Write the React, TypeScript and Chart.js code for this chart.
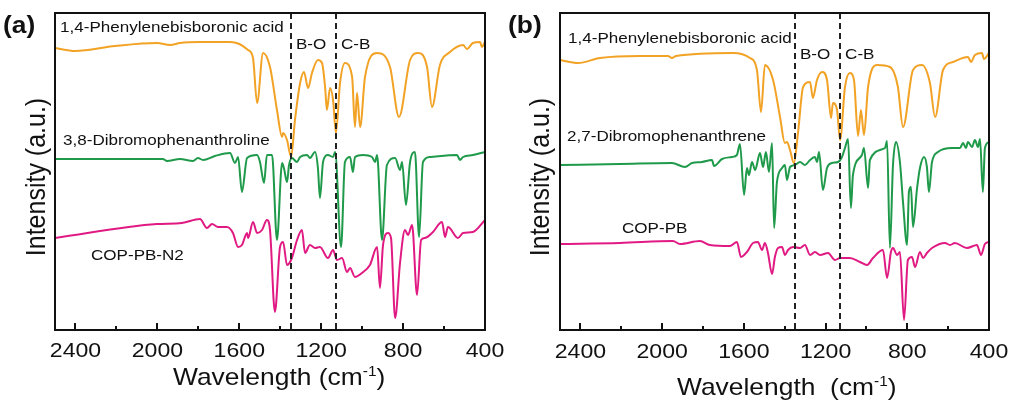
import React, { useEffect, useRef } from "react";
import { Chart, registerables } from "chart.js";

Chart.register(...registerables);

type Pt = [number, number];

// Wavenumber axis (reversed) and arbitrary intensity axis
const X_MIN = 400;
const X_MAX = 2500;
const Y_MIN = 0;
const Y_MAX = 317;
const MAJOR_TICKS = [2400, 2000, 1600, 1200, 800, 400];
const MINOR_TICKS = [2200, 1800, 1400, 1000, 600];
const MARKERS_A = [1348, 1128];
const MARKERS_B = [1350, 1129];
const MARKER_LABELS = ["B-O", "C-B"];

// Panel (a)
const A_ACID: Pt[] = [
  [2500, 282], [2402, 279], [2207, 284], [2002, 287], [1938, 285], [1890, 287], [1792, 288], [1645, 288],
  [1600, 286], [1557, 280], [1533, 272], [1513, 227], [1484, 277], [1450, 263], [1416, 220], [1391, 193],
  [1386, 197], [1367, 190], [1347, 173], [1328, 210], [1303, 247], [1284, 258], [1264, 242], [1245, 257],
  [1216, 270], [1196, 267], [1181, 243], [1172, 220], [1157, 242], [1142, 230], [1128, 197], [1108, 247],
  [1084, 267], [1049, 253], [1035, 203], [1025, 237], [1010, 203], [986, 253], [927, 277], [864, 263],
  [820, 213], [766, 270], [727, 277], [683, 263], [659, 223], [620, 265], [571, 278], [507, 285],
  [488, 281], [459, 287], [424, 288], [415, 283], [400, 288],
];
const A_PHEN: Pt[] = [
  [2500, 171], [2280, 171], [1973, 171], [1953, 169], [1890, 171], [1826, 169], [1802, 172], [1777, 170],
  [1719, 174], [1645, 177], [1621, 167], [1606, 173], [1587, 138], [1562, 172], [1513, 175], [1499, 168],
  [1479, 147], [1465, 175], [1440, 175], [1416, 90], [1391, 167], [1382, 162], [1367, 148], [1357, 165],
  [1343, 172], [1318, 168], [1303, 173], [1269, 175], [1255, 172], [1230, 178], [1216, 162], [1206, 132],
  [1191, 168], [1167, 175], [1142, 173], [1132, 178], [1103, 83], [1084, 168], [1059, 173], [1045, 158],
  [1035, 173], [996, 175], [952, 173], [937, 168], [927, 175], [903, 90], [879, 165], [839, 172],
  [815, 160], [805, 168], [786, 125], [766, 168], [742, 178], [722, 93], [703, 168], [668, 173],
  [537, 175], [522, 170], [507, 173], [459, 175], [400, 178],
];
const A_COP: Pt[] = [
  [2500, 92], [2002, 106], [1880, 107], [1792, 111], [1758, 102], [1733, 106], [1704, 103], [1660, 103],
  [1631, 97], [1606, 83], [1587, 85], [1562, 97], [1557, 92], [1533, 108], [1513, 97], [1489, 100],
  [1465, 110], [1450, 100], [1426, 18], [1401, 83], [1386, 88], [1367, 65], [1343, 72], [1318, 90],
  [1294, 100], [1279, 77], [1255, 85], [1230, 82], [1206, 83], [1167, 72], [1142, 80], [1123, 70],
  [1098, 72], [1074, 58], [1059, 62], [1035, 53], [1001, 57], [962, 65], [927, 83], [913, 42],
  [898, 85], [874, 97], [859, 92], [839, 12], [815, 67], [791, 100], [776, 95], [756, 105],
  [732, 35], [712, 90], [693, 92], [654, 98], [610, 108], [595, 93], [581, 103], [532, 92],
  [507, 97], [459, 98], [400, 110],
];

// Panel (b)
const B_ACID: Pt[] = [
  [2500, 270], [2412, 267], [2304, 272], [2108, 274], [1971, 274], [1952, 272], [1932, 274], [1653, 277],
  [1570, 272], [1536, 260], [1516, 218], [1497, 265], [1457, 250], [1423, 213], [1399, 187], [1389, 188],
  [1374, 180], [1355, 167], [1335, 197], [1310, 243], [1276, 248], [1262, 232], [1242, 250], [1217, 258],
  [1193, 250], [1173, 212], [1164, 227], [1144, 220], [1129, 190], [1105, 243], [1081, 257], [1061, 250],
  [1041, 194], [1027, 220], [1012, 195], [992, 243], [948, 265], [885, 263], [846, 243], [821, 203],
  [772, 260], [728, 265], [689, 247], [664, 213], [625, 260], [576, 268], [503, 273], [488, 268],
  [469, 275], [434, 277], [425, 271], [400, 277],
];
const B_PHEN: Pt[] = [
  [2500, 165], [2206, 166], [1952, 167], [1888, 163], [1854, 167], [1805, 168], [1756, 170], [1746, 164],
  [1707, 171], [1658, 173], [1634, 175], [1619, 186], [1599, 135], [1585, 162], [1575, 155], [1560, 168],
  [1545, 160], [1521, 177], [1506, 163], [1492, 178], [1477, 158], [1462, 187], [1452, 102], [1438, 148],
  [1413, 162], [1399, 165], [1389, 150], [1374, 163], [1350, 165], [1325, 168], [1301, 165], [1276, 170],
  [1252, 173], [1242, 168], [1232, 178], [1213, 140], [1193, 162], [1169, 167], [1139, 168], [1120, 173],
  [1105, 182], [1090, 191], [1076, 122], [1066, 155], [1022, 175], [1012, 182], [992, 142], [983, 170],
  [909, 182], [899, 189], [885, 82], [870, 165], [855, 188], [836, 168], [821, 128], [801, 85],
  [792, 138], [782, 143], [772, 103], [752, 142], [738, 162], [718, 173], [704, 163], [694, 138],
  [679, 168], [650, 178], [581, 182], [542, 182], [527, 187], [513, 182], [503, 188], [483, 183],
  [469, 190], [454, 183], [444, 191], [430, 138], [420, 182], [400, 188],
];
const B_COP: Pt[] = [
  [2500, 86], [2206, 87], [1947, 89], [1913, 86], [1815, 89], [1766, 85], [1668, 84], [1634, 88],
  [1614, 73], [1585, 78], [1555, 87], [1531, 88], [1511, 80], [1497, 87], [1482, 77], [1462, 56],
  [1448, 73], [1433, 82], [1413, 83], [1399, 75], [1384, 80], [1359, 83], [1325, 82], [1301, 85],
  [1276, 75], [1252, 78], [1227, 75], [1188, 77], [1154, 70], [1129, 72], [1081, 72], [1032, 68],
  [997, 65], [968, 72], [919, 80], [899, 52], [880, 78], [870, 82], [850, 75], [836, 78],
  [816, 10], [797, 70], [777, 73], [762, 63], [738, 78], [723, 72], [704, 77], [679, 82],
  [615, 87], [591, 85], [567, 87], [508, 82], [459, 85], [439, 75], [420, 86], [400, 88],
];

const ORANGE = "#F2A224";
const GREEN = "#1E9A4A";
const PINK = "#E01A82";
const FONT = '"Liberation Sans", Arial, Helvetica, sans-serif';
const SX = 1.1;

interface TextItem {
  s: string;
  x: number;
  y: number;
  size: number;
  bold?: boolean;
  align?: CanvasTextAlign;
}

interface PanelCfg {
  left: number;
  width: number;
  padding: { left: number; right: number; top: number; bottom: number };
  series: { label: string; data: Pt[]; color: string }[];
  markers: number[];
  markerY: number;
  texts: TextItem[];
  tickY: number;
  xTitle: { x: number; y: number; text: string };
  yTitle: { x: number; y: number };
}

function drawText(ctx: CanvasRenderingContext2D, t: TextItem) {
  ctx.save();
  ctx.font = `${t.bold ? "bold " : ""}${t.size}px ${FONT}`;
  ctx.textAlign = t.align || "left";
  ctx.textBaseline = "alphabetic";
  ctx.fillStyle = "#111";
  ctx.translate(t.x, t.y);
  ctx.scale(SX, 1);
  ctx.fillText(t.s, 0, 0);
  ctx.restore();
}

function makeOverlay(cfg: PanelCfg) {
  return {
    id: "overlay",
    afterDatasetsDraw(chart: any) {
      const ctx: CanvasRenderingContext2D = chart.ctx;
      const { left, right, top, bottom } = chart.chartArea;
      const xs = chart.scales.x;
      ctx.save();
      // dashed marker lines
      ctx.strokeStyle = "#222";
      ctx.lineWidth = 2;
      ctx.setLineDash([6, 4]);
      cfg.markers.forEach((m) => {
        const px = Math.round(xs.getPixelForValue(m));
        ctx.beginPath();
        ctx.moveTo(px, top);
        ctx.lineTo(px, bottom + 3);
        ctx.stroke();
      });
      ctx.setLineDash([]);
      // frame
      ctx.strokeStyle = "#111";
      ctx.lineWidth = 2;
      ctx.strokeRect(left, top, right - left, bottom - top);
      // ticks (inward)
      ctx.lineWidth = 2;
      MAJOR_TICKS.forEach((v) => {
        const px = Math.round(xs.getPixelForValue(v));
        ctx.beginPath();
        ctx.moveTo(px, bottom);
        ctx.lineTo(px, bottom - 7);
        ctx.stroke();
      });
      MINOR_TICKS.forEach((v) => {
        const px = Math.round(xs.getPixelForValue(v));
        ctx.beginPath();
        ctx.moveTo(px, bottom);
        ctx.lineTo(px, bottom - 4);
        ctx.stroke();
      });
      ctx.restore();
      // tick labels
      MAJOR_TICKS.forEach((v) => {
        drawText(ctx, { s: String(v), x: xs.getPixelForValue(v), y: cfg.tickY, size: 21, align: "center" });
      });
      // marker labels
      cfg.markers.forEach((m, i) => {
        drawText(ctx, { s: MARKER_LABELS[i], x: xs.getPixelForValue(m) + 5, y: cfg.markerY, size: 15.5 });
      });
      // annotations
      cfg.texts.forEach((t) => drawText(ctx, t));
      // x title with superscript
      ctx.save();
      ctx.fillStyle = "#111";
      ctx.textBaseline = "alphabetic";
      ctx.translate(cfg.xTitle.x, cfg.xTitle.y);
      ctx.scale(SX, 1);
      ctx.font = `24px ${FONT}`;
      ctx.textAlign = "left";
      let cx = 0;
      ctx.fillText(cfg.xTitle.text, cx, 0);
      cx += ctx.measureText(cfg.xTitle.text).width;
      ctx.font = `14px ${FONT}`;
      ctx.fillText("-1", cx, -9);
      cx += ctx.measureText("-1").width;
      ctx.font = `24px ${FONT}`;
      ctx.fillText(")", cx, 0);
      ctx.restore();
      // y title
      ctx.save();
      ctx.fillStyle = "#111";
      ctx.translate(cfg.yTitle.x, cfg.yTitle.y);
      ctx.rotate(-Math.PI / 2);
      ctx.scale(1, SX);
      ctx.font = `25px ${FONT}`;
      ctx.textAlign = "center";
      ctx.textBaseline = "alphabetic";
      ctx.fillText("Intensity (a.u.)", 0, 0);
      ctx.restore();
    },
  };
}

const PANEL_A: PanelCfg = {
  left: 0,
  width: 505,
  padding: { left: 55, right: 20, top: 13, bottom: 73 },
  series: [
    { label: "1,4-Phenylenebisboronic acid", data: A_ACID, color: ORANGE },
    { label: "3,8-Dibromophenanthroline", data: A_PHEN, color: GREEN },
    { label: "COP-PB-N2", data: A_COP, color: PINK },
  ],
  markers: MARKERS_A,
  markerY: 49,
  texts: [
    { s: "(a)", x: 3, y: 33, size: 24, bold: true },
    { s: "1,4-Phenylenebisboronic acid", x: 60, y: 32, size: 15.5 },
    { s: "3,8-Dibromophenanthroline", x: 63, y: 145, size: 15.5 },
    { s: "COP-PB-N2", x: 91, y: 260, size: 15.5 },
  ],
  tickY: 357,
  xTitle: { x: 173, y: 385, text: "Wavelength (cm" },
  yTitle: { x: 45, y: 177 },
};

const PANEL_B: PanelCfg = {
  left: 505,
  width: 504,
  padding: { left: 55, right: 20, top: 13, bottom: 73 },
  series: [
    { label: "1,4-Phenylenebisboronic acid", data: B_ACID, color: ORANGE },
    { label: "2,7-Dibromophenanthrene", data: B_PHEN, color: GREEN },
    { label: "COP-PB", data: B_COP, color: PINK },
  ],
  markers: MARKERS_B,
  markerY: 59,
  texts: [
    { s: "(b)", x: 3, y: 33, size: 24, bold: true },
    { s: "1,4-Phenylenebisboronic acid", x: 63, y: 43, size: 15.5 },
    { s: "2,7-Dibromophenanthrene", x: 62, y: 141, size: 15.5 },
    { s: "COP-PB", x: 117, y: 233, size: 15.5 },
  ],
  tickY: 358,
  xTitle: { x: 172, y: 395, text: "Wavelength  (cm" },
  yTitle: { x: 44, y: 177 },
};

function Panel({ cfg }: { cfg: PanelCfg }) {
  const ref = useRef<HTMLCanvasElement>(null);
  useEffect(() => {
    const chart = new Chart(ref.current as HTMLCanvasElement, {
      type: "line",
      data: {
        datasets: cfg.series.map((s) => ({
          label: s.label,
          data: s.data.map(([x, y]) => ({ x, y })),
          borderColor: s.color,
          backgroundColor: s.color,
          borderWidth: 2,
          pointRadius: 0,
          cubicInterpolationMode: "monotone" as const,
          fill: false,
        })),
      },
      options: {
        animation: false,
        responsive: false,
        devicePixelRatio: 1,
        layout: { padding: cfg.padding },
        plugins: { legend: { display: false }, tooltip: { enabled: false } },
        events: [],
        scales: {
          x: { type: "linear", min: X_MIN, max: X_MAX, reverse: true, display: false },
          y: { type: "linear", min: Y_MIN, max: Y_MAX, display: false },
        },
      },
      plugins: [makeOverlay(cfg)],
    });
    return () => chart.destroy();
  }, [cfg]);
  return (
    <canvas
      ref={ref}
      width={cfg.width}
      height={403}
      style={{ position: "absolute", left: cfg.left, top: 0, width: cfg.width, height: 403, display: "block" }}
    />
  );
}

export default function App() {
  return (
    <div style={{ position: "absolute", left: 0, top: 0, width: 1009, height: 403, background: "#fff" }}>
      <Panel cfg={PANEL_A} />
      <Panel cfg={PANEL_B} />
    </div>
  );
}
